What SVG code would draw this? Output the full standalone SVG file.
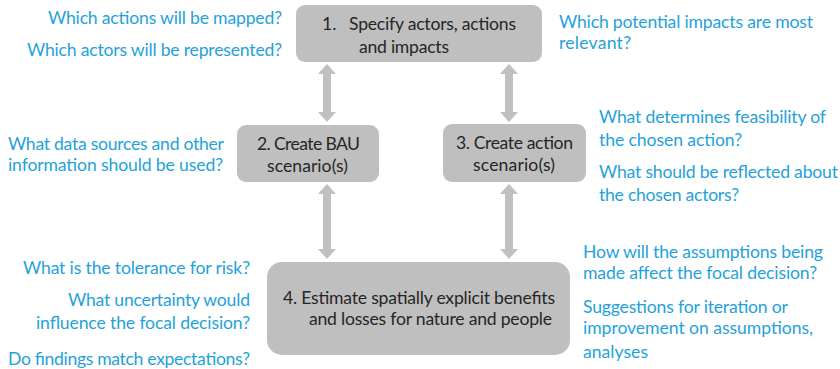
<svg xmlns="http://www.w3.org/2000/svg" width="840" height="369" viewBox="0 0 840 369">
<style>
text{font-family:Lato,"Liberation Sans",sans-serif;font-size:17.6px}
.q{fill:#1fa2db}
.b{fill:#262626}
.box{fill:#bfbfbf}
.arr{fill:#c0c0c0}
</style>
<rect width="840" height="369" fill="#ffffff"/>
<g id="connectors">
<path class="arr" d="M327,64 L336,74 L331,74 L331,112 L336,112 L327,122 L318,112 L323,112 L323,74 L318,74 Z"/>
<path class="arr" d="M509,64 L518,74 L513,74 L513,112 L518,112 L509,122 L500,112 L505,112 L505,74 L500,74 Z"/>
<path class="arr" d="M327,184 L336,194 L331,194 L331,249 L336,249 L327,259 L318,249 L323,249 L323,194 L318,194 Z"/>
<path class="arr" d="M509,184 L518,194 L513,194 L513,249 L518,249 L509,259 L500,249 L505,249 L505,194 L500,194 Z"/>
</g>
<g id="node1">
<rect class="box" x="296" y="5" width="246" height="57" rx="9"/>
<text class="b" y="30"><tspan x="322">1.</tspan><tspan x="349" textLength="167">Specify actors, actions</tspan></text>
<text class="b" x="359" y="53" textLength="90">and impacts</text>
</g>
<g id="node2">
<rect class="box" x="237" y="125" width="142" height="57" rx="9"/>
<text class="b" x="257" y="150" textLength="103">2. Create BAU</text>
<text class="b" x="267" y="172" textLength="81">scenario(s)</text>
</g>
<g id="node3">
<rect class="box" x="443" y="124" width="143" height="58" rx="9"/>
<text class="b" x="456" y="149" textLength="117">3. Create action</text>
<text class="b" x="473" y="171" textLength="82">scenario(s)</text>
</g>
<g id="node4">
<rect class="box" x="267" y="262" width="303" height="93" rx="15"/>
<text class="b" x="283" y="304" textLength="272">4. Estimate spatially explicit benefits</text>
<text class="b" x="309" y="325" textLength="243">and losses for nature and people</text>
</g>
<g id="questions-left">
<text class="q" x="48" y="24" textLength="234">Which actions will be mapped?</text>
<text class="q" x="27" y="56" textLength="255">Which actors will be represented?</text>
<text class="q" x="8" y="150" textLength="216">What data sources and other</text>
<text class="q" x="8" y="171" textLength="215">information should be used?</text>
<text class="q" x="23" y="274" textLength="227">What is the tolerance for risk?</text>
<text class="q" x="68" y="306" textLength="182">What uncertainty would</text>
<text class="q" x="36" y="329" textLength="214">influence the focal decision?</text>
<text class="q" x="8" y="365" textLength="242">Do findings match expectations?</text>
</g>
<g id="questions-right">
<text class="q" x="559" y="28" textLength="254">Which potential impacts are most</text>
<text class="q" x="559" y="49" textLength="72">relevant?</text>
<text class="q" x="599" y="123" textLength="227">What determines feasibility of</text>
<text class="q" x="599" y="146" textLength="143">the chosen action?</text>
<text class="q" x="599" y="178" textLength="239">What should be reflected about</text>
<text class="q" x="599" y="201" textLength="140">the chosen actors?</text>
<text class="q" x="583" y="258" textLength="240">How will the assumptions being</text>
<text class="q" x="583" y="279" textLength="234">made affect the focal decision?</text>
<text class="q" x="583" y="313" textLength="205">Suggestions for iteration or</text>
<text class="q" x="583" y="334" textLength="230">improvement on assumptions,</text>
<text class="q" x="583" y="358" textLength="65">analyses</text>
</g>
</svg>
